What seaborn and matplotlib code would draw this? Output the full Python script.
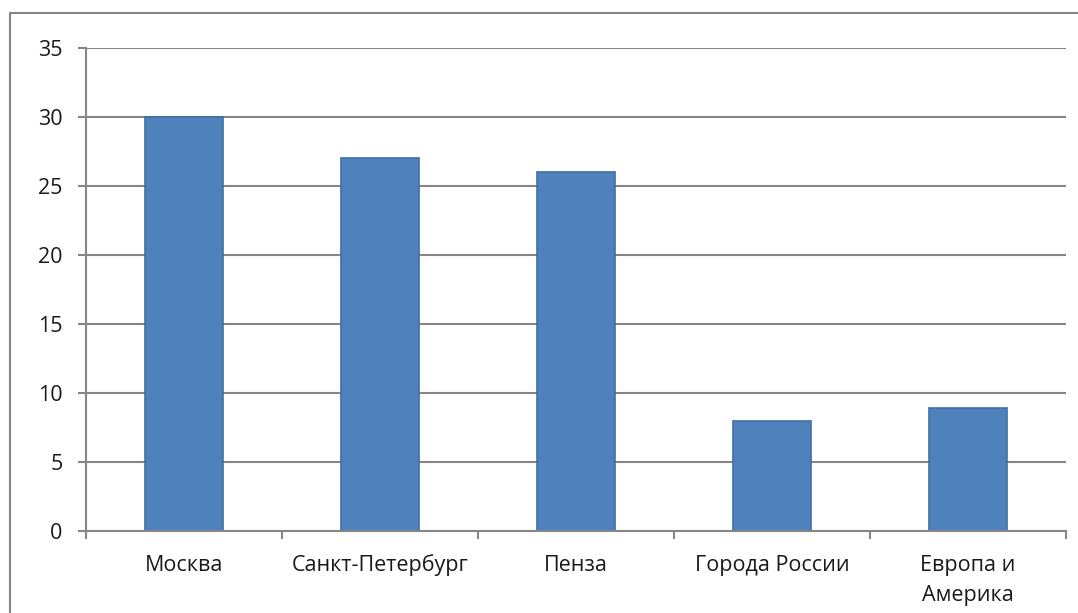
import matplotlib
matplotlib.use("Agg")
import matplotlib.pyplot as plt
import matplotlib.lines as mlines
import seaborn as sns
import pandas as pd
import numpy as np

# данные
cities = ["Москва", "Санкт-Петербург", "Пенза", "Города России", "Европа и\nАмерика"]
values = [30, 27, 26, 8, 8.9]
y_ticks = [0, 5, 10, 15, 20, 25, 30, 35]

df = pd.DataFrame({"city": cities, "value": values})

sns.set_style("white")
plt.rcParams['font.family'] = ['Open Sans', 'DejaVu Sans']

fig = plt.figure(figsize=(10.78, 6.13), dpi=100)
ax = fig.add_axes([86 / 1078, 1 - 531 / 613, (1066 - 86) / 1078, (531 - 48) / 613])

ax.set_axisbelow(True)
ax.yaxis.grid(True, color="#868686", linewidth=1.5)
sns.barplot(data=df, x="city", y="value", color="#4F81BD", saturation=1,
            width=0.4, edgecolor="#3F6EA6", linewidth=1.2, ax=ax)

ax.set_xlim(-0.5, len(cities) - 0.5)
ax.set_ylim(0, 35)
ax.set_yticks(y_ticks)
ax.set_xlabel("")
ax.set_ylabel("")

for s in ["top", "right"]:
    ax.spines[s].set_visible(False)
for s in ["left", "bottom"]:
    ax.spines[s].set_color("#868686")
    ax.spines[s].set_linewidth(1.5)
    ax.spines[s].set_zorder(5)

ax.tick_params(axis="y", which="major", left=True, length=5.8, width=1.5,
               color="#868686", pad=11, labelsize=15.5, labelcolor="#1a1a1a")
ax.set_xticks(np.arange(-0.5, len(cities), 1), minor=True)
ax.tick_params(axis="x", which="major", bottom=False, length=0, pad=17,
               labelsize=15.5, labelcolor="#1a1a1a")
ax.tick_params(axis="x", which="minor", bottom=True, length=6, width=1.5,
               color="#868686")
for lbl in ax.get_xticklabels():
    lbl.set_linespacing(1.6)

# рамка области диаграммы
fig.add_artist(mlines.Line2D([10 / 1078, 10 / 1078], [0, 1 - 13 / 613],
                             color="#868686", linewidth=1.5))
fig.add_artist(mlines.Line2D([10 / 1078, 1], [1 - 13 / 613, 1 - 13 / 613],
                             color="#868686", linewidth=1.5))

fig.savefig("out.png", dpi=100, facecolor="white")
